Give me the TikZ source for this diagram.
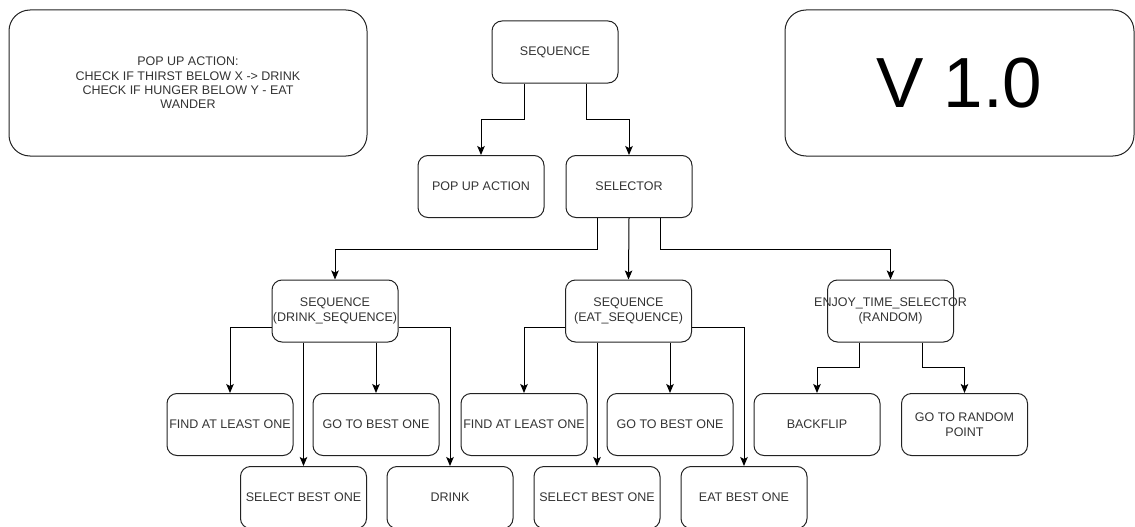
\documentclass[tikz,border=0pt]{standalone}
\usepackage{fontspec}
\setmainfont{Liberation Sans}
\usetikzlibrary{arrows.meta,calc}
\definecolor{txtc}{HTML}{333333}
\definecolor{brd}{HTML}{222222}
\begin{document}
\begin{tikzpicture}[x=1pt,y=-1pt,
  box/.style={draw=brd,line width=1pt,rounded corners=10pt,minimum width=126pt,minimum height=62pt,inner sep=0pt,align=center,text=txtc,font=\fontsize{12.5}{14.5}\selectfont},
  bigbox/.style={draw=brd,line width=1pt,rounded corners=21pt,inner sep=0pt,align=center,text=txtc},
  txt/.style={inner sep=0pt,align=center,text=txtc,font=\fontsize{12.5}{14.5}\selectfont},
  arr/.style={draw=black,line width=1pt,-{Stealth[length=9pt,width=7.5pt,inset=2pt]}}]
\useasboundingbox (0,0) rectangle (1135,527);
\clip (0,0) rectangle (1135,527);
% big boxes
\node[bigbox,minimum width=358pt,minimum height=146pt,font=\fontsize{12.5}{14.3}\selectfont] (note) at (188,83)
  {POP UP ACTION:\\CHECK IF THIRST BELOW X -> DRINK\\CHECK IF HUNGER BELOW Y - EAT\\WANDER};
\node[bigbox,minimum width=349pt,minimum height=146pt,text=black,font=\fontsize{71}{80}\selectfont] (ver) at (959.5,83) {V 1.0};
% tree
\node[box] (seq) at (555,52) {SEQUENCE};
\node[box] (pop) at (481,186.5) {POP UP ACTION};
\node[box] (sel) at (629,186.5) {SELECTOR};
\node[box] (dseq) at (335,311) {SEQUENCE\\(DRINK\_SEQUENCE)};
\node[box] (eseq) at (628.5,311) {SEQUENCE\\(EAT\_SEQUENCE)};
\node[box] (enjoy) at (890.5,311) {};
\node[txt] (enjoytxt) at (enjoy.center) {ENJOY\_TIME\_SELECTOR\\(RANDOM)};
\node[box] (find1) at (230,424.5) {FIND AT LEAST ONE};
\node[box] (go1) at (376,424.5) {GO TO BEST ONE};
\node[box] (sel1) at (303.5,497.5) {SELECT BEST ONE};
\node[box] (drink) at (450,497.5) {DRINK};
\node[box] (find2) at (524,424.5) {FIND AT LEAST ONE};
\node[box] (go2) at (670,424.5) {GO TO BEST ONE};
\node[box] (sel2) at (597,497.5) {SELECT BEST ONE};
\node[box] (eatb) at (744,497.5) {EAT BEST ONE};
\node[box] (back) at (817,424.5) {BACKFLIP};
\node[box] (rand) at (964.5,424.5) {GO TO RANDOM\\POINT};
% connectors
\draw[arr] ([xshift=-31pt]seq.south) -- ++(0,36) -| (pop.north);
\draw[arr] ([xshift=31pt]seq.south) -- ++(0,36) -| (sel.north);
\draw[arr] ([xshift=-32pt]sel.south) -- ++(0,31) -| (dseq.north);
\draw[arr] (sel.south) -- (eseq.north);
\draw[arr] ([xshift=31pt]sel.south) -- ++(0,31) -| (enjoy.north);
\draw[arr] ([yshift=-16pt]dseq.west) -| (find1.north);
\draw[arr] (sel1.north |- dseq.south) -- (sel1.north);
\draw[arr] (go1.north |- dseq.south) -- (go1.north);
\draw[arr] ([yshift=-16pt]dseq.east) -| (drink.north);
\draw[arr] ([yshift=-16pt]eseq.west) -| (find2.north);
\draw[arr] (sel2.north |- eseq.south) -- (sel2.north);
\draw[arr] (go2.north |- eseq.south) -- (go2.north);
\draw[arr] ([yshift=-16pt]eseq.east) -| (eatb.north);
\draw[arr] ([xshift=-31.5pt]enjoy.south) -- ++(0,25) -| (back.north);
\draw[arr] ([xshift=31.5pt]enjoy.south) -- ++(0,25) -| (rand.north);
\end{tikzpicture}
\end{document}
